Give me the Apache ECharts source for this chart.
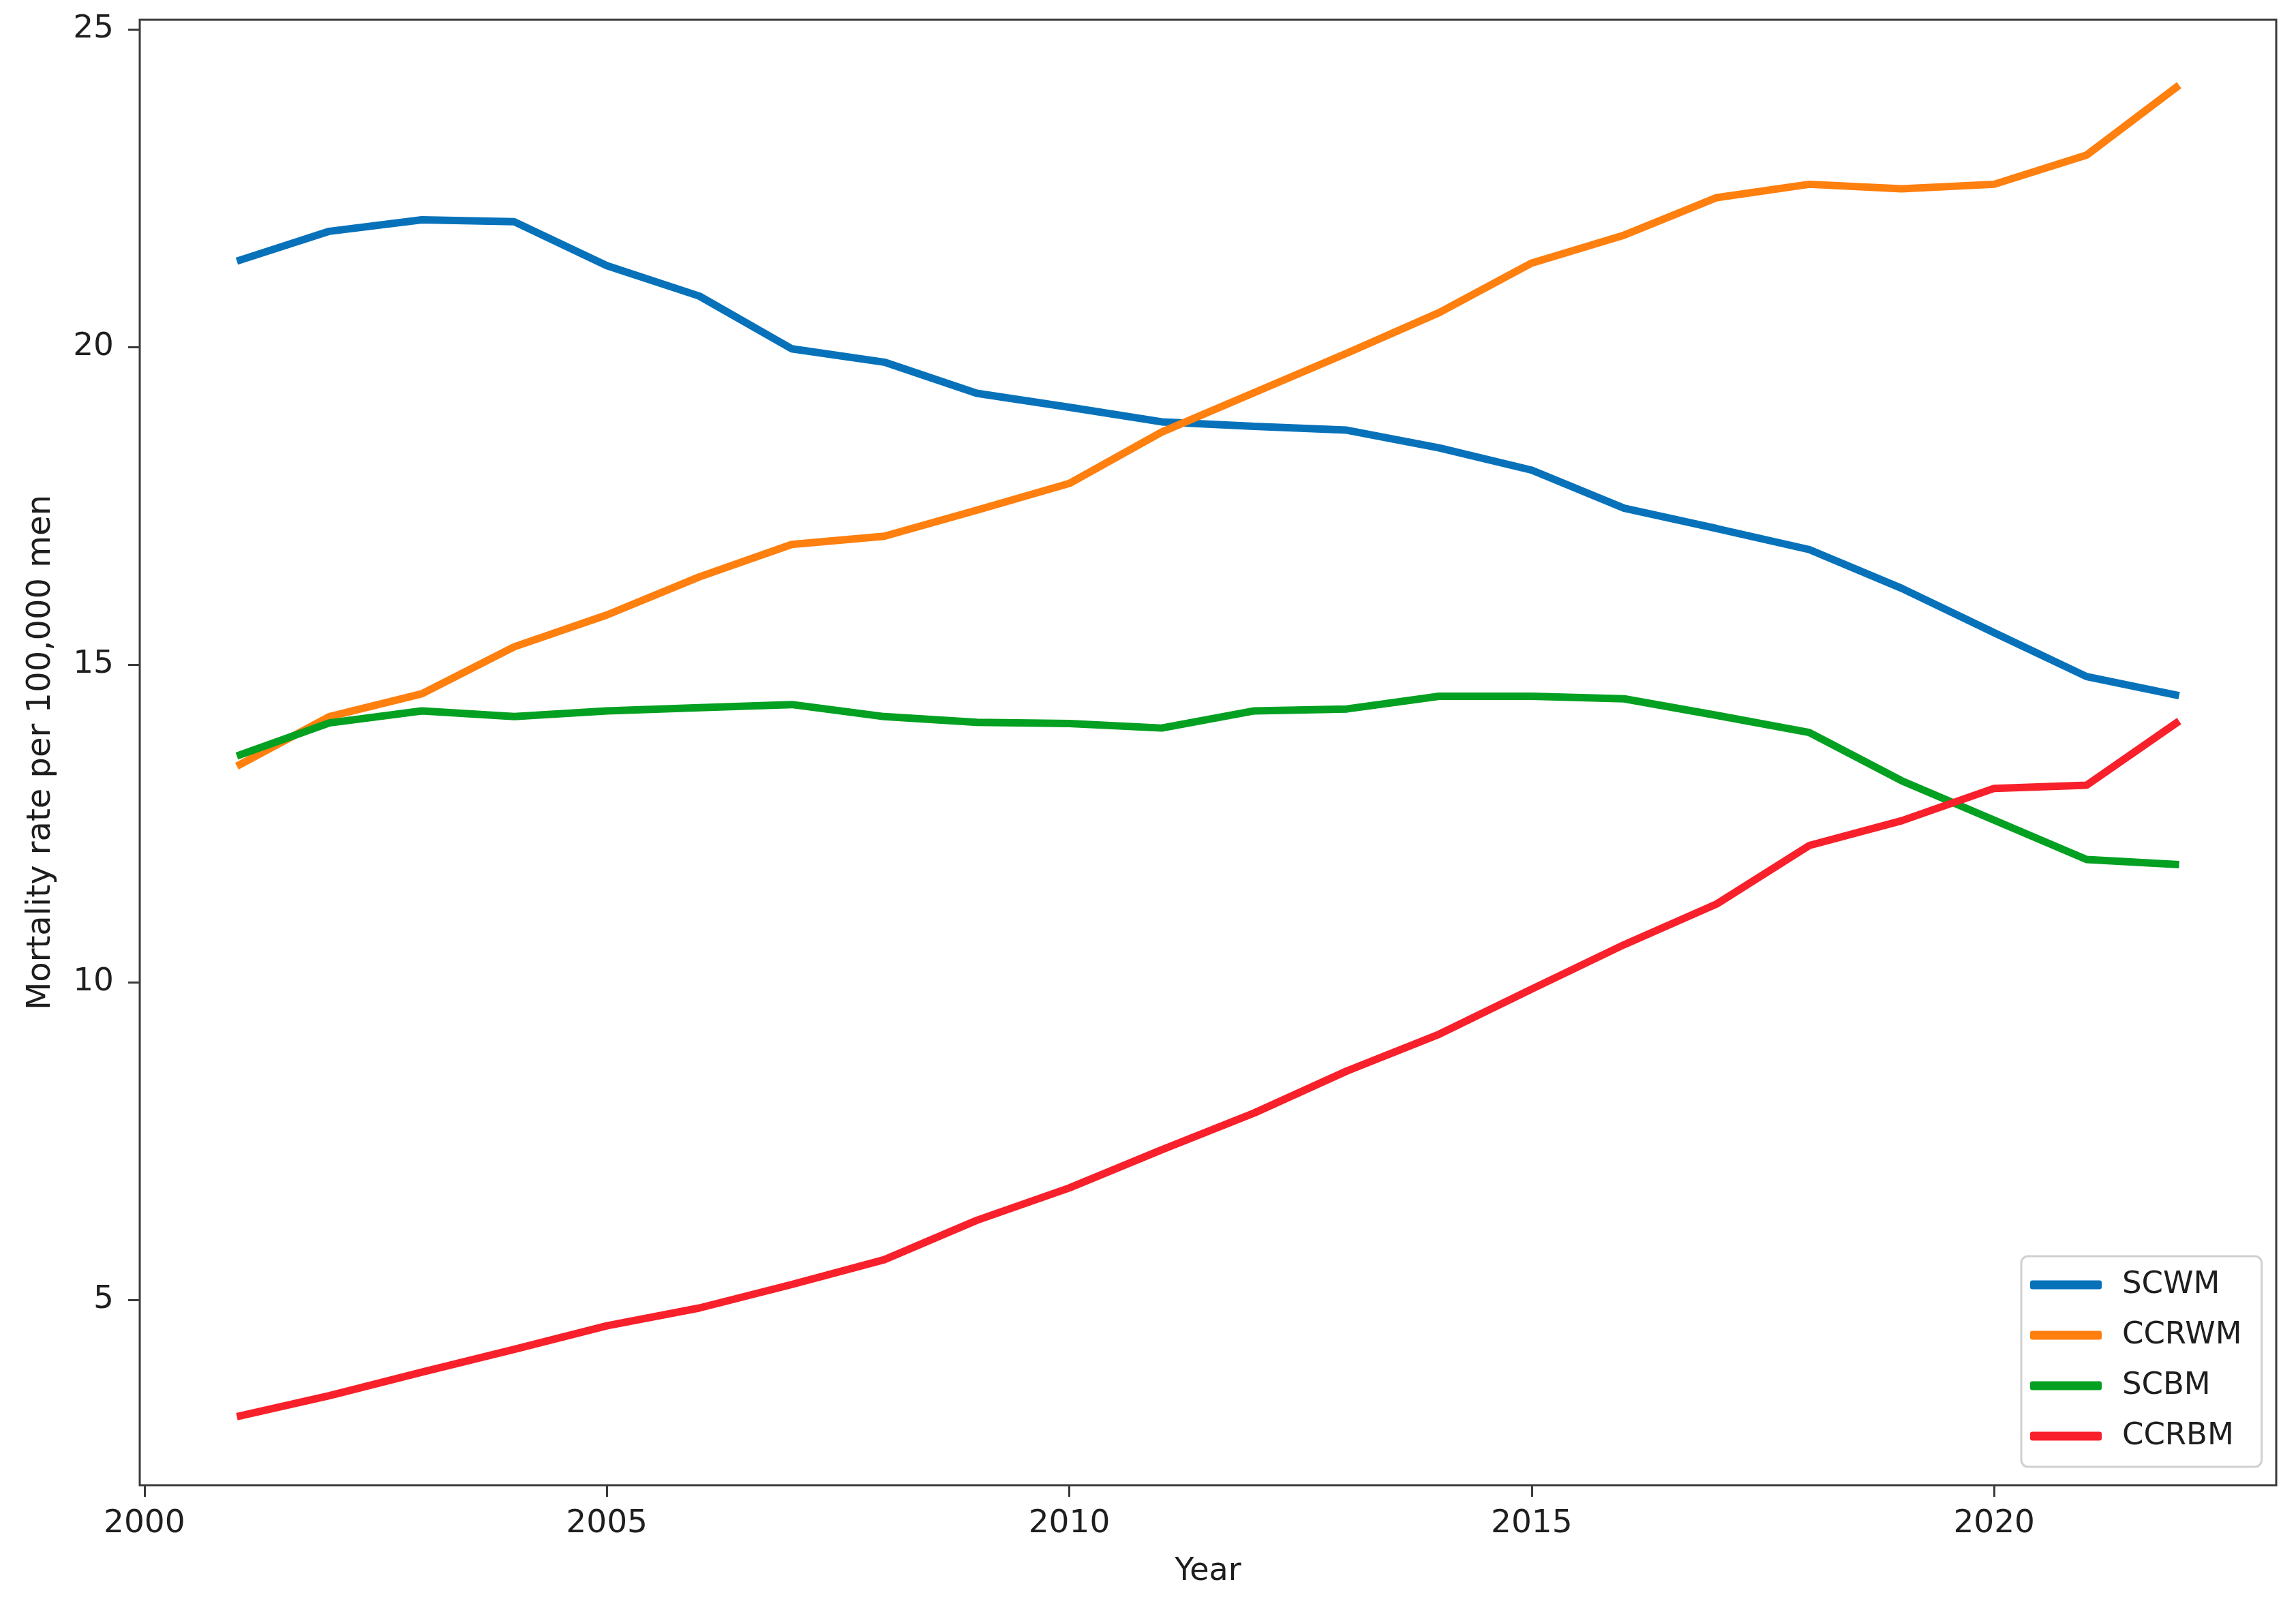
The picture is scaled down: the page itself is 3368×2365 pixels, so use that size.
<!DOCTYPE html>
<html>
<head>
<meta charset="utf-8">
<script src="https://cdn.jsdelivr.net/npm/echarts@6/dist/echarts.min.js"></script>
<style>
html,body{margin:0;padding:0;background:#fff;}
#chart{width:3368px;height:2365px;}
</style>
</head>
<body>
<div id="chart"></div>
<script>
const years = [2001,2002,2003,2004,2005,2006,2007,2008,2009,2010,2011,2012,2013,2014,2015,2016,2017,2018,2019,2020,2021,2022];
const scwm  = [21.35,21.82,22.00,21.97,21.28,20.80,19.97,19.76,19.27,19.05,18.82,18.75,18.69,18.41,18.06,17.46,17.14,16.81,16.20,15.50,14.81,14.51];
const ccrwm = [13.40,14.18,14.54,15.28,15.78,16.38,16.89,17.02,17.43,17.85,18.66,19.28,19.90,20.54,21.32,21.76,22.35,22.56,22.49,22.56,23.02,24.12];
const scbm  = [13.56,14.08,14.27,14.18,14.27,14.32,14.37,14.18,14.09,14.07,14.00,14.27,14.30,14.50,14.50,14.46,14.20,13.93,13.17,12.55,11.93,11.85];
const ccrbm = [3.16,3.49,3.86,4.22,4.59,4.87,5.24,5.63,6.25,6.76,7.36,7.94,8.60,9.18,9.89,10.59,11.23,12.15,12.54,13.05,13.10,14.11];
const seriesNames = ['SCWM','CCRWM','SCBM','CCRBM'];
const seriesColors = ['#0772ba','#ff7f0f','#03a021','#f8202a'];
const xTicks = [2000,2005,2010,2015,2020];
const yTicks = [5,10,15,20,25];

const allData = [scwm, ccrwm, scbm, ccrbm];
const font = 'DejaVu Sans';
const chart = echarts.init(document.getElementById('chart'));
chart.setOption({
  animation: false,
  backgroundColor: '#fff',
  grid: {left: 205, right: 29, top: 29, bottom: 186, show: true, borderColor: '#3a3a3a', borderWidth: 3, backgroundColor: 'transparent'},
  xAxis: {
    type: 'value', min: 1999.95, max: 2023.05,
    name: 'Year', nameLocation: 'middle', nameGap: 104,
    nameTextStyle: {fontFamily: font, fontSize: 46, color: '#1e1e1e'},
    axisLine: {show: false},
    splitLine: {show: false},
    axisTick: {show: true, customValues: xTicks, length: 17, lineStyle: {color: '#3a3a3a', width: 3}},
    axisLabel: {customValues: xTicks, fontFamily: font, fontSize: 47, color: '#1e1e1e', margin: 33, formatter: v => String(v)}
  },
  yAxis: {
    type: 'value', min: 2.08, max: 25.15,
    name: 'Mortality rate per 100,000 men', nameLocation: 'middle', nameGap: 120, nameRotate: 90,
    nameTextStyle: {fontFamily: font, fontSize: 48, color: '#1e1e1e'},
    axisLine: {show: false},
    splitLine: {show: false},
    axisTick: {show: true, customValues: yTicks, length: 17, lineStyle: {color: '#3a3a3a', width: 3}},
    axisLabel: {customValues: yTicks, fontFamily: font, fontSize: 47, color: '#1e1e1e', margin: 38, formatter: v => String(v)}
  },
  legend: {
    orient: 'vertical', left: 2965, top: 1843,
    padding: [17, 29, 20, 13],
    backgroundColor: '#fff', borderColor: '#d0d0d0', borderWidth: 3, borderRadius: 10,
    itemWidth: 105, itemHeight: 13, itemGap: 24,
    icon: 'roundRect',
    textStyle: {fontFamily: font, fontSize: 45, color: '#1e1e1e', lineHeight: 50, padding: [0,0,0,25]},
    data: seriesNames
  },
  series: seriesNames.map((name, i) => ({
    name: name, type: 'line', symbol: 'none', showSymbol: false,
    color: seriesColors[i],
    lineStyle: {width: 11, color: seriesColors[i]},
    data: years.map((y, j) => [y, allData[i][j]])
  }))
});
</script>
</body>
</html>
